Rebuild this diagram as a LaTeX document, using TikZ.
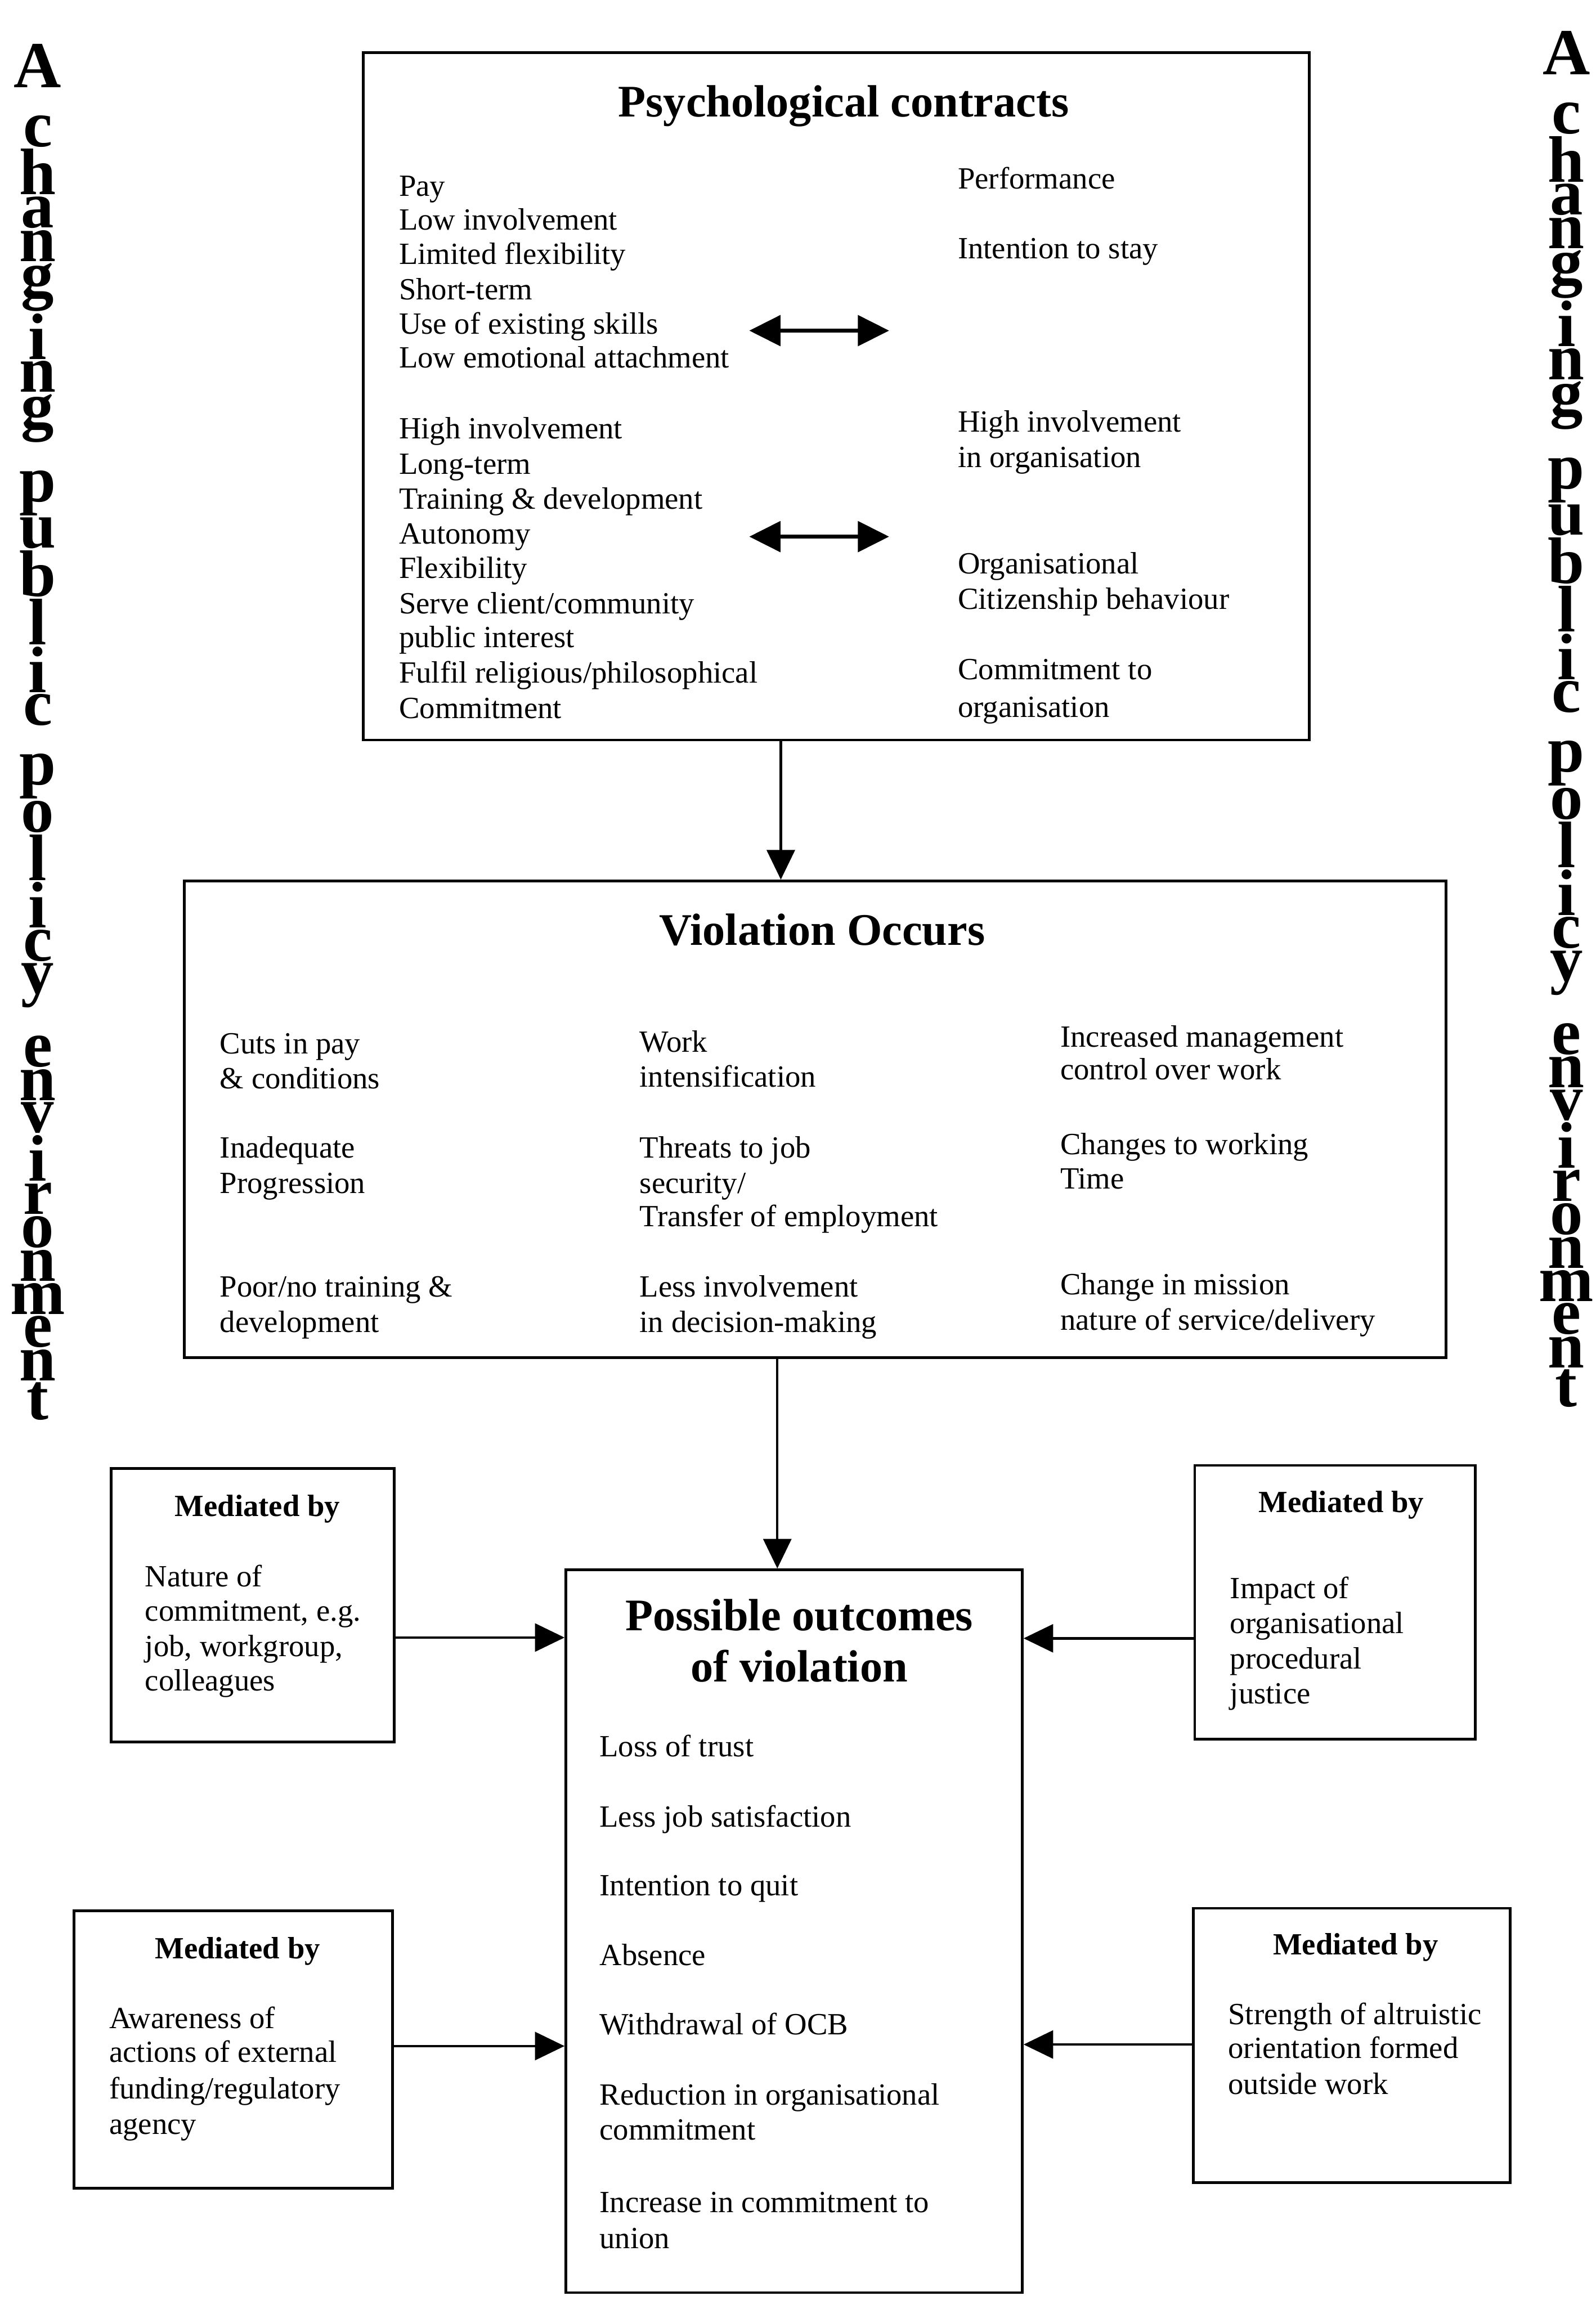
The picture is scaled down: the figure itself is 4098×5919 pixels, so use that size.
\documentclass[tikz,border=0pt]{standalone}
\usepackage{fontspec}
\setmainfont{Liberation Serif}
\usetikzlibrary{arrows.meta,fit}
\newcommand\tline[4]{\node[txt] (#1) at (#2,#3) {#4};}
\newlength\vgap \setlength\vgap{1.5pt}
\newlength\wgap \setlength\wgap{19pt}
\newcommand\vl[1]{\hbox to 0pt{\hss#1\hss}\kern\vgap}
\newcommand\vlast[1]{\hbox to 0pt{\hss#1\hss}}
\newcommand\vw{\kern\wgap}
\newcommand\vcolumn{\vbox{\offinterlineskip
  \vl{A}\vw
  \vl{c}\vl{h}\vl{a}\vl{n}\vl{g}\vl{i}\vl{n}\vl{g}\vw
  \vl{p}\vl{u}\vl{b}\vl{l}\vl{i}\vl{c}\vw
  \vl{p}\vl{o}\vl{l}\vl{i}\vl{c}\vl{y}\vw
  \vl{e}\vl{n}\vl{v}\vl{i}\vl{r}\vl{o}\vl{n}\vl{m}\vl{e}\vl{n}\vlast{t}}}
\begin{document}
\begin{tikzpicture}[x=0.01cm,y=-0.01cm,
  txt/.style={anchor=base west,inner sep=0,font=\fontsize{22.5}{27}\selectfont},
  ttl/.style={anchor=base,inner sep=0,font=\fontsize{33}{40}\selectfont\bfseries},
  med/.style={anchor=base,inner sep=0,font=\fontsize{22.5}{27}\selectfont\bfseries},
  box/.style={draw,line width=1.9pt,inner sep=0,rectangle},
  vcol/.style={inner sep=0,anchor=center,font=\fontsize{48}{50}\selectfont\bfseries},
  arr/.style={line width=1.8pt,-{Triangle[length=0.76cm,width=0.72cm]}},
  darr/.style={line width=2.6pt,{Triangle[length=0.8cm,width=0.78cm]}-{Triangle[length=0.8cm,width=0.78cm]}},
]
\useasboundingbox (0,0) rectangle (4098,5919);
\fill[white] (0,0) rectangle (4098,5919);

% ---------- boxes ----------
\node[box,fit={(933,135) (3362,1900)}] (box1) {};
\node[box,fit={(473,2262) (3713,3486)}] (box2) {};
\node[box,fit={(1453,4031) (2625,5887)}] (box3) {};
\node[box,fit={(285,3771) (1012,4473)}] (mtl) {};
\node[box,fit={(3068,3763) (3788,4466)}] (mtr) {};
\node[box,fit={(190,4907) (1008,5619)}] (mbl) {};
\node[box,fit={(3064,4900) (3878,5605)}] (mbr) {};

% ---------- box 1 ----------
\node[ttl] (t1) at (2166,300) {Psychological contracts};
\tline{a1}{1024}{503}{Pay}
\tline{a2}{1024}{590}{Low involvement}
\tline{a3}{1024}{679}{Limited flexibility}
\tline{a4}{1024}{770}{Short-term}
\tline{a5}{1024}{858}{Use of existing skills}
\tline{a6}{1024}{945}{Low emotional attachment}
\tline{b1}{1024}{1127}{High involvement}
\tline{b2}{1024}{1218}{Long-term}
\tline{b3}{1024}{1307}{Training \& development}
\tline{b4}{1024}{1396}{Autonomy}
\tline{b5}{1024}{1485}{Flexibility}
\tline{b6}{1024}{1576}{Serve client/community}
\tline{b7}{1024}{1663}{public interest}
\tline{b8}{1024}{1754}{Fulfil religious/philosophical}
\tline{b9}{1024}{1845}{Commitment}
\tline{r1}{2459}{485}{Performance}
\tline{r2}{2459}{664}{Intention to stay}
\tline{r3}{2459}{1109}{High involvement}
\tline{r4}{2459}{1200}{in organisation}
\tline{r5}{2459}{1473}{Organisational}
\tline{r6}{2459}{1564}{Citizenship behaviour}
\tline{r7}{2459}{1745}{Commitment to}
\tline{r8}{2459}{1842}{organisation}
\coordinate (d1a) at (1924,849);
\coordinate (d1b) at (2283,849);
\coordinate (d2a) at (1924,1378);
\coordinate (d2b) at (2283,1378);
\draw[darr] (d1a) -- (d1b);
\draw[darr] (d2a) -- (d2b);

% ---------- box 2 ----------
\node[ttl] (t2) at (2111,2427) {Violation Occurs};
\tline{c1}{564}{2706}{Cuts in pay}
\tline{c2}{564}{2795}{\& conditions}
\tline{c3}{564}{2973}{Inadequate}
\tline{c4}{564}{3064}{Progression}
\tline{c5}{564}{3330}{Poor/no training \&}
\tline{c6}{564}{3421}{development}
\tline{e1}{1642}{2702}{Work}
\tline{e2}{1642}{2791}{intensification}
\tline{e3}{1642}{2973}{Threats to job}
\tline{e4}{1642}{3064}{security/}
\tline{e5}{1642}{3150}{Transfer of employment}
\tline{e6}{1642}{3330}{Less involvement}
\tline{e7}{1642}{3421}{in decision-making}
\tline{f1}{2722}{2688}{Increased management}
\tline{f2}{2722}{2773}{control over work}
\tline{f3}{2722}{2964}{Changes to working}
\tline{f4}{2722}{3052}{Time}
\tline{f5}{2722}{3324}{Change in mission}
\tline{f6}{2722}{3415}{nature of service/delivery}

% ---------- box 3 ----------
\node[ttl] (t3a) at (2052,4187) {Possible outcomes};
\node[ttl] (t3b) at (2052,4318) {of violation};
\tline{o1}{1539}{4510}{Loss of trust}
\tline{o2}{1539}{4691}{Less job satisfaction}
\tline{o3}{1539}{4868}{Intention to quit}
\tline{o4}{1539}{5047}{Absence}
\tline{o5}{1539}{5224}{Withdrawal of OCB}
\tline{o6}{1539}{5405}{Reduction in organisational}
\tline{o7}{1539}{5495}{commitment}
\tline{o8}{1539}{5681}{Increase in commitment to}
\tline{o9}{1539}{5773}{union}

% ---------- mediated boxes ----------
\node[med] (m1) at (661,3894) {Mediated by};
\tline{g1}{372}{4074}{Nature of}
\tline{g2}{372}{4162}{commitment, e.g.}
\tline{g3}{372}{4253}{job, workgroup,}
\tline{g4}{372}{4341}{colleagues}

\node[med] (m2) at (3444,3884) {Mediated by};
\tline{h1}{3158}{4104}{Impact of}
\tline{h2}{3158}{4194}{organisational}
\tline{h3}{3158}{4286}{procedural}
\tline{h4}{3158}{4375}{justice}

\node[med] (m3) at (610,5029) {Mediated by};
\tline{k1}{280}{5208}{Awareness of}
\tline{k2}{280}{5295}{actions of external}
\tline{k3}{280}{5389}{funding/regulatory}
\tline{k4}{280}{5481}{agency}

\node[med] (m4) at (3481,5020) {Mediated by};
\tline{n1}{3153}{5199}{Strength of altruistic}
\tline{n2}{3153}{5285}{orientation formed}
\tline{n3}{3153}{5378}{outside work}

% ---------- connectors ----------
\coordinate (v1) at (2005,0);
\coordinate (v2) at (1996,0);
\coordinate (y1) at (0,4205);
\coordinate (y2) at (0,4207);
\coordinate (y3) at (0,5254);
\coordinate (y4) at (0,5250);
\draw[arr] (box1.south -| v1) -- (box2.north -| v1);
\draw[arr] (box2.south -| v2) -- (box3.north -| v2);
\draw[arr] (mtl.east |- y1) -- (box3.west |- y1);
\draw[arr] (mtr.west |- y2) -- (box3.east |- y2);
\draw[arr] (mbl.east |- y3) -- (box3.west |- y3);
\draw[arr] (mbr.west |- y4) -- (box3.east |- y4);

% ---------- vertical side texts ----------
\node[vcol] (lcol) at (97,1880) {\vcolumn};
\node[vcol] (rcol) at (4022,1847) {\vcolumn};
\end{tikzpicture}
\end{document}
